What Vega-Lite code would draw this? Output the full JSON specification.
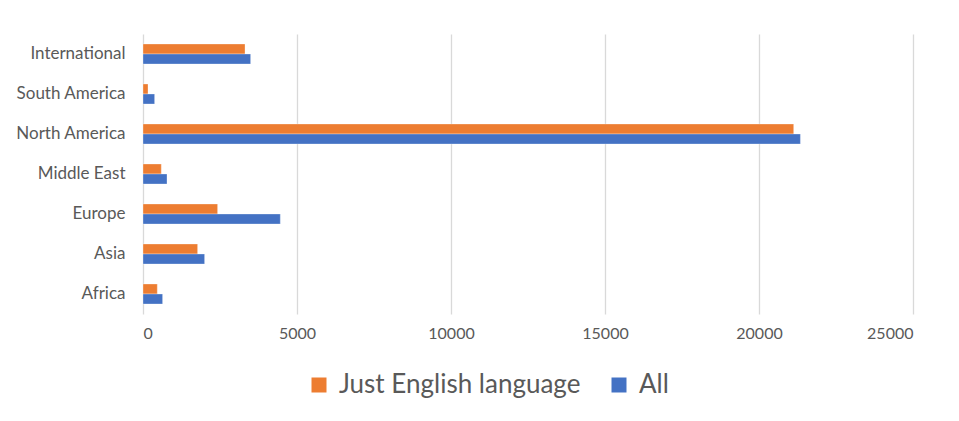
{
  "$schema": "https://vega.github.io/schema/vega-lite/v6.json",
  "autosize": {"type": "none"},
  "width": 770,
  "height": 280,
  "padding": {"left": 143, "top": 34, "right": 46, "bottom": 107},
  "background": "white",
  "data": {
    "values": [
      {"region": "International", "series": "Just English language", "value": 3312},
      {"region": "International", "series": "All", "value": 3494},
      {"region": "South America", "series": "Just English language", "value": 162},
      {"region": "South America", "series": "All", "value": 377},
      {"region": "North America", "series": "Just English language", "value": 21126},
      {"region": "North America", "series": "All", "value": 21344},
      {"region": "Middle East", "series": "Just English language", "value": 594},
      {"region": "Middle East", "series": "All", "value": 779},
      {"region": "Europe", "series": "Just English language", "value": 2422},
      {"region": "Europe", "series": "All", "value": 4458},
      {"region": "Asia", "series": "Just English language", "value": 1773},
      {"region": "Asia", "series": "All", "value": 2000},
      {"region": "Africa", "series": "Just English language", "value": 464},
      {"region": "Africa", "series": "All", "value": 636}
    ]
  },
  "mark": {"type": "bar", "stroke": "white", "strokeWidth": 0.5, "strokeOpacity": 0.6},
  "encoding": {
    "y": {
      "field": "region",
      "type": "nominal",
      "sort": ["International", "South America", "North America", "Middle East", "Europe", "Asia", "Africa"],
      "scale": {"paddingInner": 0.5, "paddingOuter": 0.25},
      "axis": {
        "title": null,
        "domain": false,
        "ticks": false,
        "labelPadding": 18,
        "labelFont": "Lato",
        "labelFontSize": 17,
        "labelColor": "#595959"
      }
    },
    "yOffset": {
      "field": "series",
      "type": "nominal",
      "sort": ["Just English language", "All"],
      "scale": {"paddingInner": 0, "paddingOuter": 0}
    },
    "x": {
      "field": "value",
      "type": "quantitative",
      "scale": {"domain": [0, 25000], "nice": false},
      "axis": {
        "title": null,
        "values": [0, 5000, 10000, 15000, 20000, 25000],
        "format": "d",
        "domain": false,
        "ticks": false,
        "grid": true,
        "gridColor": "#d9d9d9",
        "gridWidth": 1.3,
        "labelPadding": 11,
        "labelFont": "Lato",
        "labelFontSize": 16,
        "labelColor": "#595959"
      }
    },
    "color": {
      "field": "series",
      "type": "nominal",
      "sort": ["Just English language", "All"],
      "scale": {"domain": ["Just English language", "All"], "range": ["#ED7D31", "#4472C4"]},
      "legend": {
        "title": null,
        "orient": "none",
        "legendX": 163,
        "legendY": 338,
        "direction": "horizontal",
        "symbolType": "square",
        "symbolSize": 225,
        "symbolStrokeWidth": 0,
        "labelFont": "Lato",
        "labelFontSize": 26,
        "labelColor": "#595959",
        "labelLimit": 0,
        "columnPadding": 25,
        "labelOffset": 7
      }
    }
  },
  "config": {
    "view": {"stroke": null}
  }
}
